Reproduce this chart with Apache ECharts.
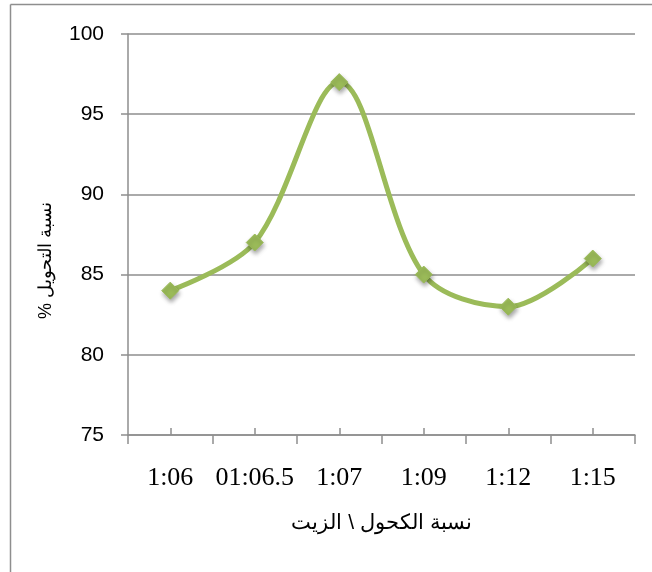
<!DOCTYPE html>
<html>
<head>
<meta charset="utf-8">
<script src="https://cdn.jsdelivr.net/npm/echarts@6/dist/echarts.min.js"></script>
<style>
  html, body { margin: 0; padding: 0; background: #fff; }
  #chart { width: 652px; height: 572px; }
</style>
</head>
<body>
<div id="chart"></div>
<script>
// Alcohol : oil ratio categories and the measured conversion (%)
const ratios = ['1:06', '01:06.5', '1:07', '1:09', '1:12', '1:15'];
const conversion = [84, 87, 97, 85, 83, 86];
const yTicks = { min: 75, max: 100, step: 5 };

// RLM marks keep the Arabic titles laid out right-to-left on the canvas
const RLM = '\u200F';
const xTitle = RLM + 'نسبة الكحول \\ الزيت' + RLM;
const yTitle = RLM + 'نسبة التحويل %' + RLM;

const axisGray = '#8e8e8e';
const green = '#9bbb59';

const chart = echarts.init(document.getElementById('chart'), null, { renderer: 'canvas' });

chart.setOption({
  animation: false,
  backgroundColor: '#ffffff',
  grid: { left: 128, right: 17, top: 34, bottom: 137, containLabel: false },
  graphic: [
    // outer frame (left and top edges)
    { type: 'line', shape: { x1: 10.5, y1: 4.5, x2: 652, y2: 4.5 }, style: { stroke: axisGray, lineWidth: 1.5 } },
    { type: 'line', shape: { x1: 10.5, y1: 4.5, x2: 10.5, y2: 572 }, style: { stroke: axisGray, lineWidth: 1.5 } }
  ],
  xAxis: [
    {
      type: 'category',
      data: ratios,
      boundaryGap: true,
      axisLine: { show: true, lineStyle: { color: axisGray, width: 1.5 } },
      axisTick: { show: true, inside: false, length: 9, alignWithLabel: false, lineStyle: { color: axisGray, width: 1.5 } },
      axisLabel: {
        margin: 30,
        color: '#000',
        fontFamily: '"Liberation Serif", "Times New Roman", serif',
        fontSize: 26,
        interval: 0
      },
      name: xTitle,
      nameLocation: 'middle',
      nameGap: 78,
      nameTextStyle: { color: '#000', fontFamily: '"Liberation Sans", Arial, sans-serif', fontSize: 21 }
    },
    {
      // short inward ticks at the category centres
      type: 'category',
      data: ratios,
      position: 'bottom',
      boundaryGap: true,
      axisLine: { show: false },
      axisTick: { show: true, inside: true, length: 7, alignWithLabel: true, lineStyle: { color: axisGray, width: 1.5 } },
      axisLabel: { show: false }
    }
  ],
  yAxis: {
    type: 'value',
    min: yTicks.min,
    max: yTicks.max,
    interval: yTicks.step,
    axisLine: { show: true, lineStyle: { color: axisGray, width: 1.5 } },
    axisTick: { show: true, length: 7, lineStyle: { color: axisGray, width: 1.5 } },
    splitLine: { show: true, lineStyle: { color: axisGray, width: 1.5 } },
    axisLabel: {
      margin: 24,
      color: '#000',
      fontFamily: '"Liberation Sans", Arial, sans-serif',
      fontSize: 21
    },
    name: yTitle,
    nameLocation: 'middle',
    nameRotate: 90,
    nameGap: 73,
    nameTextStyle: {
      color: '#000',
      fontFamily: '"Liberation Sans", Arial, sans-serif',
      fontSize: 18,
      padding: [0, 52, 0, 0]
    }
  },
  series: [
    {
      type: 'line',
      data: conversion,
      smooth: 0.33,
      symbol: 'diamond',
      symbolSize: 17,
      lineStyle: { color: green, width: 5 },
      itemStyle: {
        color: green,
        borderColor: green,
        shadowColor: 'rgba(0,0,0,0.35)',
        shadowBlur: 4,
        shadowOffsetX: 1,
        shadowOffsetY: 3
      },
      z: 3
    }
  ]
});
</script>
</body>
</html>
